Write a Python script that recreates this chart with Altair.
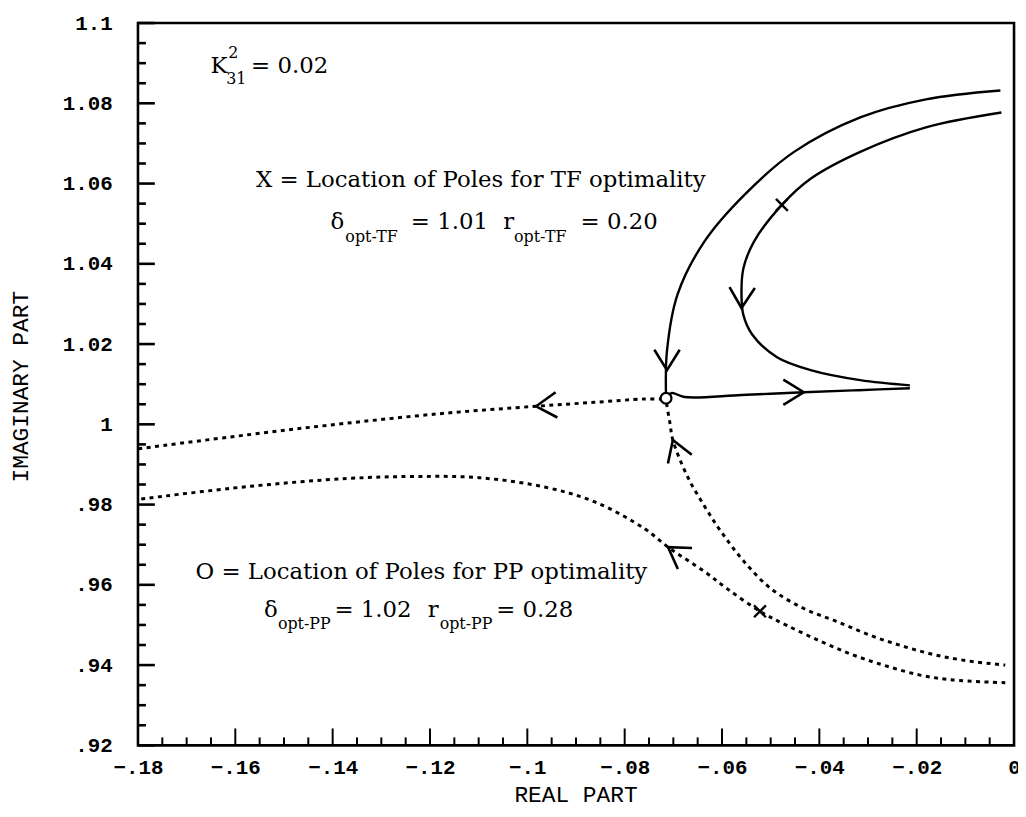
import altair as alt
import pandas as pd

# ---------------- data ----------------
# solid branches (TF locus)
outer_x = [-0.0028, -0.0181, -0.0316, -0.0452, -0.0554, -0.0636, -0.0691, -0.0713, -0.0715]
outer_y = [1.0832, 1.0810, 1.0765, 1.0679, 1.0572, 1.0456, 1.0325, 1.0184, 1.0068]
inner_x = [-0.0026, -0.0181, -0.0316, -0.0418, -0.0477, -0.0534, -0.0556, -0.0560, -0.0556,
           -0.0538, -0.0487, -0.0418, -0.0316, -0.0214]
inner_y = [1.0777, 1.0740, 1.0679, 1.0612, 1.0547, 1.0456, 1.0389, 1.0325, 1.0272,
           1.0224, 1.0167, 1.0135, 1.0110, 1.0097]
horiz_x = [-0.0712, -0.0703, -0.0677, -0.0560, -0.0432, -0.0320, -0.0214]
horiz_y = [1.0070, 1.0078, 1.0068, 1.0073, 1.0080, 1.0085, 1.0090]

# dotted branches (PP locus)
left_up_x = [-0.0722, -0.0760, -0.0860, -0.0982, -0.1166, -0.1370, -0.1574, -0.1800]
left_up_y = [1.0063, 1.0063, 1.0055, 1.0045, 1.0028, 1.0003, 0.9974, 0.9939]
low_x = [-0.0018, -0.0126, -0.0193, -0.0263, -0.0330, -0.0397, -0.0467, -0.0522, -0.0589,
         -0.0636, -0.0711, -0.0758, -0.0860, -0.0962, -0.1099, -0.1233, -0.1370, -0.1574, -0.1800]
low_y = [0.9356, 0.9363, 0.9375, 0.9398, 0.9425, 0.9459, 0.9499, 0.9534, 0.9590,
         0.9633, 0.9694, 0.9739, 0.9806, 0.9843, 0.9867, 0.9870, 0.9865, 0.9845, 0.9813]
right_x = [-0.0714, -0.0707, -0.0701, -0.0671, -0.0636, -0.0601, -0.0554, -0.0499, -0.0432,
           -0.0365, -0.0295, -0.0228, -0.0161, -0.0092, -0.0018]
right_y = [1.0052, 1.0003, 0.9961, 0.9870, 0.9796, 0.9731, 0.9657, 0.9590, 0.9541,
           0.9509, 0.9474, 0.9447, 0.9425, 0.9410, 0.9400]

# direction arrows (position, heading in degrees, clockwise from +x on screen)
arrow_x = [-0.0713, -0.0560, -0.0432, -0.0982, -0.0701, -0.0711]
arrow_y = [1.0135, 1.0290, 1.0080, 1.0045, 0.9961, 0.9694]
arrow_angle = [90, 92, 0, 176, 250, 214]

# "X" optimal-pole markers and "O" marker
xmark_x = [-0.0477, -0.0522]
xmark_y = [1.0547, 0.9534]
omark_x = [-0.0715]
omark_y = [1.0065]

# axis ticks
x_major = [-0.18, -0.16, -0.14, -0.12, -0.10, -0.08, -0.06, -0.04, -0.02, 0.0]
y_major = [0.92, 0.94, 0.96, 0.98, 1.00, 1.02, 1.04, 1.06, 1.08, 1.10]
x_minor = [round(-0.18 + 0.005 * k, 3) for k in range(37) if k % 4 != 0]
y_minor = [round(0.92 + 0.005 * k, 3) for k in range(37) if k % 4 != 0]

# annotations
big_text = ["X = Location of Poles for TF optimality", "O = Location of Poles for PP optimality",
            "K", "= 0.02", "\u03b4", "= 1.01", "r", "= 0.20", "\u03b4", "= 1.02", "r", "= 0.28"]
big_x = [-0.15574, -0.16818, -0.1651, -0.15676, -0.14045, -0.12393, -0.10497, -0.08907,
         -0.15411, -0.13963, -0.12047, -0.1064]
big_y = [1.0592, 0.96152, 1.0876, 1.0876, 1.04857, 1.04857, 1.04857, 1.04857,
         0.95188, 0.95188, 0.95188, 0.95188]
small_text = ["2", "31", "opt-TF", "opt-TF", "opt-PP", "opt-PP"]
small_x = [-0.16145, -0.16186, -0.13739, -0.10273, -0.15125, -0.11802]
small_y = [1.0913, 1.0847, 1.04535, 1.04535, 0.94891, 0.94891]


def frame(name, xs, ys):
    return pd.DataFrame({"x": xs, "y": ys, "series": name, "i": list(range(len(xs)))})


solid_df = pd.concat([frame("outer", outer_x, outer_y),
                      frame("inner", inner_x, inner_y),
                      frame("horiz", horiz_x, horiz_y)])
dotted_df = pd.concat([frame("leftup", left_up_x, left_up_y),
                       frame("low", low_x, low_y),
                       frame("right", right_x, right_y)])
arrow_df = pd.DataFrame({"x": arrow_x, "y": arrow_y, "angle": arrow_angle})
xmark_df = pd.DataFrame({"x": xmark_x, "y": xmark_y})
omark_df = pd.DataFrame({"x": omark_x, "y": omark_y})
big_df = pd.DataFrame({"x": big_x, "y": big_y, "t": big_text})
small_df = pd.DataFrame({"x": small_x, "y": small_y, "t": small_text})

MONO = "Liberation Mono"
SERIF = "DejaVu Serif"
W, H = 883, 728

X = alt.X("x:Q",
          scale=alt.Scale(domain=[-0.18, 0], nice=False, zero=False),
          axis=alt.Axis(values=x_major, ticks=False, domain=False, grid=False,
                        labelFont=MONO, labelFontSize=21, labelFontWeight="bold", labelColor="black",
                        labelPadding=11, labelFlush=False, labelOverlap=False,
                        labelExpr="replace(format(datum.value, '.2~f'), '0.', '.')",
                        title="REAL  PART", titleFont=MONO, titleFontSize=23,
                        titleFontWeight="normal", titleColor="black",
                        titleX=441, titleY=50, titleBaseline="middle", titleAlign="center"))
Y = alt.Y("y:Q",
          scale=alt.Scale(domain=[0.92, 1.1], nice=False, zero=False),
          axis=alt.Axis(values=y_major, ticks=False, domain=False, grid=False,
                        labelFont=MONO, labelFontSize=21, labelFontWeight="bold", labelColor="black",
                        labelPadding=26, labelFlush=False, labelOverlap=False,
                        labelExpr="replace(format(datum.value, '.2~f'), '0.', '.')",
                        title="IMAGINARY  PART", titleFont=MONO, titleFontSize=23,
                        titleFontWeight="normal", titleColor="black",
                        titleAngle=270, titleX=-118, titleY=366,
                        titleBaseline="middle", titleAlign="center"))

solid = alt.Chart(solid_df).mark_line(color="black", strokeWidth=2.4, interpolate="catmull-rom").encode(
    x=X, y=Y, detail="series:N", order="i:Q")
dotted = alt.Chart(dotted_df).mark_line(color="black", strokeWidth=3, strokeDash=[4, 4.5],
                                        interpolate="catmull-rom").encode(
    x=X, y=Y, detail="series:N", order="i:Q")

arrows = alt.Chart(arrow_df).mark_point(shape="M-1,-0.62L0,0L-1,0.62", size=1700, filled=False,
                                        color="black", strokeWidth=2.6, opacity=1).encode(
    x=X, y=Y, angle=alt.Angle("angle:Q", scale=None))
xmarks = alt.Chart(xmark_df).mark_point(shape="M-1,-1L1,1M-1,1L1,-1", size=144, filled=False,
                                        color="black", strokeWidth=2.4, opacity=1).encode(x=X, y=Y)
omarks = alt.Chart(omark_df).mark_point(shape="circle", size=120, filled=True, fill="white",
                                        stroke="black", strokeWidth=2.2, opacity=1).encode(x=X, y=Y)

ytick_major = alt.Chart(pd.DataFrame({"y": y_major})).mark_rule(color="black", strokeWidth=2.6).encode(
    y=Y, x=alt.value(0), x2=alt.value(17))
ytick_minor = alt.Chart(pd.DataFrame({"y": y_minor})).mark_rule(color="black", strokeWidth=2.6).encode(
    y=Y, x=alt.value(0), x2=alt.value(8))
xtick_major = alt.Chart(pd.DataFrame({"x": x_major})).mark_rule(color="black", strokeWidth=2).encode(
    x=X, y=alt.value(H), y2=alt.value(H - 17))
xtick_minor = alt.Chart(pd.DataFrame({"x": x_minor})).mark_rule(color="black", strokeWidth=2).encode(
    x=X, y=alt.value(H), y2=alt.value(H - 8))

big = alt.Chart(big_df).mark_text(font=SERIF, fontSize=23, align="left", baseline="alphabetic",
                                  color="black").encode(x=X, y=Y, text="t:N")
small = alt.Chart(small_df).mark_text(font=SERIF, fontSize=16, align="left", baseline="alphabetic",
                                      color="black").encode(x=X, y=Y, text="t:N")

chart = alt.layer(
    solid, dotted, arrows, xmarks, omarks,
    ytick_major, ytick_minor, xtick_major, xtick_minor, big, small
).properties(
    width=W, height=H,
    autosize=alt.AutoSizeParams(type="none"),
    padding={"left": 131, "top": 12, "right": 4, "bottom": 62},
    background="white",
).configure_view(stroke="black", strokeWidth=2.6)

chart.save("out.html", embed_options={"renderer": "svg", "actions": False})
